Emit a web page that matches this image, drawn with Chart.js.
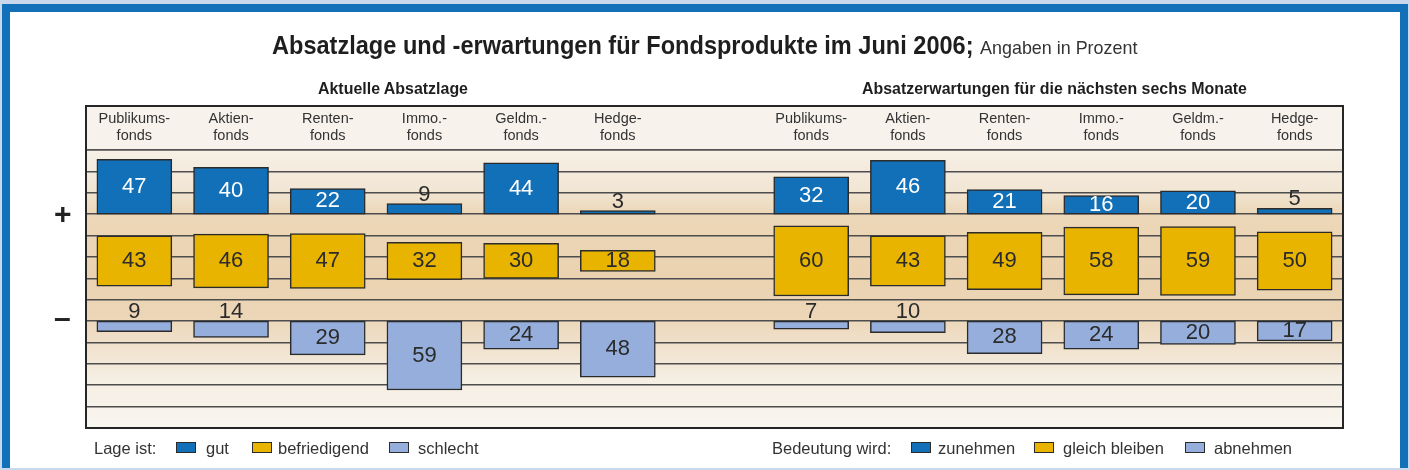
<!DOCTYPE html>
<html lang="de">
<head>
<meta charset="utf-8">
<title>Absatzlage und -erwartungen für Fondsprodukte</title>
<script src="https://cdn.jsdelivr.net/npm/chart.js@4"></script>
<style>
  html, body { margin: 0; padding: 0; }
  body {
    width: 1410px; height: 470px; position: relative; overflow: hidden;
    background: #cad8ed; color: #222;
    font-family: "Liberation Sans", Arial, sans-serif;
  }
  #frame {
    position: absolute; left: 2px; top: 4px; width: 1390px; height: 456px;
    background: #fff; border: 8px solid #1170b8; border-bottom: none;
  }
  #wrap { position: absolute; left: 0; top: 0; width: 1410px; height: 470px; }
  .t { position: absolute; white-space: nowrap; line-height: 1; transform-origin: 0 0; }
  .title { font-size: 25px; font-weight: bold; color: #1e1e1e; }
  .title span { font-size: 19px; font-weight: normal; color: #333; }
  .sub { font-size: 17px; font-weight: bold; color: #1e1e1e; }
  .sign { font-size: 30px; font-weight: bold; color: #222; }
  .leg { font-size: 16.5px; color: #333; }
  .sw { position: absolute; top: 442px; width: 18px; height: 9px; border: 1.5px solid #2b2b2b; }
</style>
</head>
<body>
<div id="frame"></div>
<div id="wrap"><canvas id="chart" width="1410" height="470"></canvas></div>

<div class="t title" style="left:272px; top:33px" data-w="865">Absatzlage und -erwartungen für Fondsprodukte im Juni 2006; <span>Angaben in Prozent</span></div>
<div class="t sub" style="left:318px; top:80px" data-w="150">Aktuelle Absatzlage</div>
<div class="t sub" style="left:862px; top:80px" data-w="385">Absatzerwartungen für die nächsten sechs Monate</div>

<div class="t sign" style="left:54px; top:199px">+</div>
<div class="t sign" style="left:54px; top:303px">–</div>

<div class="t leg" style="left:94px; top:440px">Lage ist:</div>
<div class="sw" style="left:176px; background:#1170b8"></div>
<div class="t leg" style="left:206px; top:440px">gut</div>
<div class="sw" style="left:252px; background:#e8b400"></div>
<div class="t leg" style="left:278px; top:440px">befriedigend</div>
<div class="sw" style="left:389px; background:#95aedb"></div>
<div class="t leg" style="left:418px; top:440px">schlecht</div>

<div class="t leg" style="left:772px; top:440px">Bedeutung wird:</div>
<div class="sw" style="left:911px; background:#1170b8"></div>
<div class="t leg" style="left:938px; top:440px">zunehmen</div>
<div class="sw" style="left:1034px; background:#e8b400"></div>
<div class="t leg" style="left:1063px; top:440px">gleich bleiben</div>
<div class="sw" style="left:1185px; background:#95aedb"></div>
<div class="t leg" style="left:1214px; top:440px">abnehmen</div>

<script>
// ── Data ─────────────────────────────────────────────────────────────────────

const categories = [
    ['Publikums-', 'fonds'], ['Aktien-', 'fonds'], ['Renten-', 'fonds'],
    ['Immo.-', 'fonds'], ['Geldm.-', 'fonds'], ['Hedge-', 'fonds']
]

// Aktuelle Absatzlage
const lageGut = [47, 40, 22, 9, 44, 3]
const lageBefriedigend = [43, 46, 47, 32, 30, 18]
const lageSchlecht = [9, 14, 29, 59, 24, 48]

// Absatzerwartungen für die nächsten sechs Monate
const erwZunehmen = [32, 46, 21, 16, 20, 5]
const erwGleich = [60, 43, 49, 58, 59, 50]
const erwAbnehmen = [7, 10, 28, 24, 20, 17]


// ── Scale layout (value units, 13 grid bands) ────────────────────────────────

const Y_MAX = 238
const STEP = Y_MAX / 13
const UP_BASE = 10 * STEP     // "+" rows grow up from here
const MID = 143               // "befriedigend" rows are centred here
const DOWN_BASE = 5 * STEP    // "–" rows hang down from here

const BLUE = '#1170b8'
const YELLOW = '#e8b400'
const LIGHT = '#95aedb'
const INK = '#2b2b2b'

// left panel, one empty slot, right panel
const join = (a, b) => [...a, null, ...b]

const upBar = v => v == null ? null : [UP_BASE, UP_BASE + v]
const midBar = v => v == null ? null : [MID - v / 2, MID + v / 2]
const downBar = v => v == null ? null : [DOWN_BASE - v, DOWN_BASE]

const rows = [
    { kind: 'up', color: BLUE, values: join(lageGut, erwZunehmen), make: upBar },
    { kind: 'mid', color: YELLOW, values: join(lageBefriedigend, erwGleich), make: midBar },
    { kind: 'down', color: LIGHT, values: join(lageSchlecht, erwAbnehmen), make: downBar },
]


// ── Plugins ──────────────────────────────────────────────────────────────────

const framePlugin = {
    id: 'frame',
    beforeDraw(chart) {
        const { ctx, chartArea: a } = chart
        const top = chart.scales.x.top
        ctx.save()
        ctx.fillStyle = '#f7f3ec'
        ctx.fillRect(a.left, top, a.right - a.left, a.top - top)
        const g = ctx.createLinearGradient(0, a.top, 0, a.bottom)
        g.addColorStop(0, '#f6f0e6')
        g.addColorStop(0.14, '#f2e6d5')
        g.addColorStop(0.23, '#ecd7b8')
        g.addColorStop(0.45, '#ebd3b1')
        g.addColorStop(0.6, '#ecd6b7')
        g.addColorStop(0.7, '#f0e1cc')
        g.addColorStop(0.82, '#f5eee3')
        g.addColorStop(1, '#f9f6f0')
        ctx.fillStyle = g
        ctx.fillRect(a.left, a.top, a.right - a.left, a.bottom - a.top)
        ctx.restore()
    },
    afterDraw(chart) {
        const { ctx, chartArea: a } = chart
        const top = chart.scales.x.top
        ctx.save()
        ctx.strokeStyle = '#262626'
        ctx.lineWidth = 2
        ctx.strokeRect(a.left, top, a.right - a.left, a.bottom - top)
        ctx.restore()
    }
}

const valuePlugin = {
    id: 'values',
    afterDatasetsDraw(chart) {
        const { ctx } = chart
        ctx.save()
        ctx.font = '22px "Liberation Sans", Arial, sans-serif'
        ctx.textAlign = 'center'
        ctx.textBaseline = 'middle'
        chart.data.datasets.forEach((ds, i) => {
            chart.getDatasetMeta(i).data.forEach((bar, j) => {
                const v = ds.values[j]
                if (v == null) return
                const top = Math.min(bar.y, bar.base)
                const bot = Math.max(bar.y, bar.base)
                let y = (top + bot) / 2
                let color = INK
                if (ds.kind === 'up') {
                    if (v >= 12) color = '#ffffff'
                    else y = top - 9
                } else if (ds.kind === 'down') {
                    if (v < 15) y = top - 9
                }
                ctx.fillStyle = color
                ctx.fillText(String(v), bar.x, y)
            })
        })
        ctx.restore()
    }
}


// ── Chart ────────────────────────────────────────────────────────────────────

new Chart(document.getElementById('chart'), {
    type: 'bar',
    data: {
        labels: join(categories, categories).map(l => l ?? ''),
        datasets: rows.map(r => ({
            label: r.kind,
            kind: r.kind,
            values: r.values,
            data: r.values.map(r.make),
            backgroundColor: r.color,
            borderColor: INK,
            borderWidth: 1.5,
            borderSkipped: false,
            barThickness: 75,
            grouped: false,
        }))
    },
    options: {
        responsive: false,
        animation: false,
        events: [],
        layout: { padding: { left: 86, right: 67, top: 106, bottom: 42 } },
        plugins: { legend: { display: false }, tooltip: { enabled: false } },
        scales: {
            x: {
                position: 'top',
                grid: { display: false, drawTicks: false },
                border: { display: true, color: '#555', width: 1.5 },
                ticks: {
                    autoSkip: false, maxRotation: 0, padding: 6,
                    color: '#333',
                    font: { family: '"Liberation Sans", Arial, sans-serif', size: 14.5, lineHeight: '17px' },
                },
                afterFit: s => { s.height = 44 },
            },
            y: {
                min: 0, max: Y_MAX,
                grid: { color: '#4d4d4d', lineWidth: 1.5, drawTicks: false },
                border: { display: false },
                ticks: { display: false },
                afterBuildTicks: s => { s.ticks = Array.from({ length: 14 }, (_, i) => ({ value: i * STEP })) },
                afterFit: s => { s.width = 0 },
            }
        }
    },
    plugins: [framePlugin, valuePlugin]
})


// squeeze the condensed-looking headings to the widths of the original
document.querySelectorAll('[data-w]').forEach(el => {
    el.style.transform = `scaleX(${+el.dataset.w / el.offsetWidth})`
})
</script>
</body>
</html>
